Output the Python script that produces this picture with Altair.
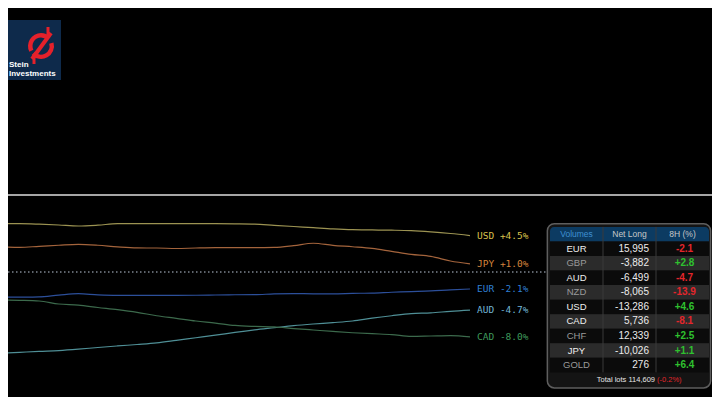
import altair as alt
import pandas as pd

# ---------------- data ----------------
minutes = list(range(0, 481, 20))  # 8 hours, every 20 minutes

usd = [5.96, 5.96, 5.90, 5.80, 5.68, 5.78, 5.96, 5.96, 5.96, 5.96, 5.96, 5.96, 5.94,
       5.90, 5.76, 5.62, 5.47, 5.32, 5.22, 5.19, 5.16, 5.10, 4.95, 4.75, 4.50]
jpy = [3.12, 3.04, 3.17, 3.30, 3.41, 3.30, 3.10, 2.97, 2.96, 2.90, 2.96, 3.00, 3.00,
       3.00, 3.03, 3.25, 3.55, 3.29, 3.12, 2.92, 2.55, 2.18, 1.93, 1.36, 1.00]
eur = [-3.12, -3.10, -3.06, -2.85, -2.68, -2.82, -2.88, -2.88, -2.88, -2.88, -2.87, -2.84, -2.81,
       -2.80, -2.70, -2.66, -2.70, -2.70, -2.64, -2.60, -2.50, -2.42, -2.34, -2.20, -2.10]
aud = [-10.04, -9.92, -9.80, -9.70, -9.53, -9.32, -9.13, -8.95, -8.75, -8.44, -8.12, -7.80, -7.45,
       -7.14, -6.88, -6.62, -6.42, -6.25, -6.05, -5.70, -5.40, -5.14, -5.05, -4.85, -4.70]
cad = [-3.46, -3.50, -3.58, -3.95, -4.09, -4.38, -4.65, -4.98, -5.40, -5.72, -6.05, -6.30, -6.60,
       -6.72, -6.78, -6.98, -7.16, -7.34, -7.50, -7.62, -7.72, -7.95, -7.90, -7.85, -8.00]

series_names = ["USD", "JPY", "EUR", "AUD", "CAD"]
series_values = [usd, jpy, eur, aud, cad]
series_changes = ["+4.5%", "+1.0%", "-2.1%", "-4.7%", "-8.0%"]
line_colors = ["#9c9352", "#a4643c", "#2c4f9a", "#4f8f96", "#3c6a4c"]
label_colors = ["#d9c24c", "#d4843c", "#2f7fd4", "#72b6d6", "#3f9a5c"]

table_headers = ["Volumes", "Net Long", "8H (%)"]
table_rows = ["EUR", "GBP", "AUD", "NZD", "USD", "CAD", "CHF", "JPY", "GOLD"]
net_long = [15995, -3882, -6499, -8065, -13286, 5736, 12339, -10026, 276]
change_8h = [-2.1, 2.8, -4.7, -13.9, 4.6, -8.1, 2.5, 1.1, 6.4]
name_colors = ["#eeeeee", "#9a9a9a", "#eeeeee", "#9a9a9a", "#eeeeee",
               "#eeeeee", "#9a9a9a", "#eeeeee", "#9a9a9a"]
total_lots = 114609
total_change = -0.2

W, H = 704, 389

# ---------------- line panel ----------------
line_rows = []
for name, vals, lc in zip(series_names, series_values, line_colors):
    for t, v in zip(minutes, vals):
        line_rows.append({"cur": name, "t": t, "v": v, "col": lc})
line_df = pd.DataFrame(line_rows)

lab_df = pd.DataFrame({
    "cur": series_names,
    "t": [minutes[-1]] * len(series_names),
    "v": [vals[-1] for vals in series_values],
    "label": [f"{n} {c}" for n, c in zip(series_names, series_changes)],
    "col": label_colors,
})

xs = alt.Scale(domain=[0, 480], range=[-8, 462])
ys = alt.Scale(domain=[-10, 10], range=[345, 183])

top_rule = alt.Chart(pd.DataFrame({"v": [0]})).mark_rule(
    color="#a6a6a6", strokeWidth=2
).encode(y=alt.value(187), x=alt.value(0), x2=alt.value(W))

zero_rule = alt.Chart(pd.DataFrame({"v": [0]})).mark_rule(
    color="#7d8590", strokeWidth=1.5, strokeDash=[1.5, 2.5]
).encode(y=alt.Y("v:Q", scale=ys, axis=None), x=alt.value(0), x2=alt.value(W))

lines = alt.Chart(line_df).mark_line(strokeWidth=1.2, interpolate="monotone").encode(
    x=alt.X("t:Q", scale=xs, axis=None),
    y=alt.Y("v:Q", scale=ys, axis=None),
    detail="cur:N",
    color=alt.Color("col:N", scale=None),
)

labels = alt.Chart(lab_df).mark_text(
    align="left", baseline="middle", dx=7, font="DejaVu Sans Mono", fontSize=9.5
).encode(
    x=alt.X("t:Q", scale=xs, axis=None),
    y=alt.Y("v:Q", scale=ys, axis=None),
    text="label:N",
    color=alt.Color("col:N", scale=None),
)

line_panel = alt.layer(top_rule, zero_rule, lines, labels)

# ---------------- table panel ----------------
txs = alt.Scale(domain=[0, 3], range=[542, 701])
tys = alt.Scale(domain=[0, 10], range=[240.7, 386.2])

frame_df = pd.DataFrame({"tx": [-0.05], "tx2": [3.03], "ty": [-1.72], "ty2": [9.57]})
frame = alt.Chart(frame_df).mark_rect(
    fill="#141414", stroke="#5e5e5e", strokeWidth=1.5, cornerRadius=7
).encode(
    x=alt.X("tx:Q", scale=txs, axis=None), x2="tx2:Q",
    y=alt.Y("ty:Q", scale=tys, axis=None), y2="ty2:Q",
)

header_df = pd.DataFrame({"tx": [0], "tx2": [3], "ty": [-1.5], "ty2": [-0.5]})
header_bg = alt.Chart(header_df).mark_rect(
    fill="#0c3b62", cornerRadiusTopLeft=4, cornerRadiusTopRight=4
).encode(
    x=alt.X("tx:Q", scale=txs, axis=None), x2="tx2:Q",
    y=alt.Y("ty:Q", scale=tys, axis=None), y2="ty2:Q",
)

rowbg_df = pd.DataFrame({
    "tx": [0] * len(table_rows), "tx2": [3] * len(table_rows),
    "ty": [i - 0.5 for i in range(len(table_rows))],
    "ty2": [i + 0.5 for i in range(len(table_rows))],
    "fill": ["#0b0b0b" if i % 2 == 0 else "#2b2b2b" for i in range(len(table_rows))],
})
row_bg = alt.Chart(rowbg_df).mark_rect().encode(
    x=alt.X("tx:Q", scale=txs, axis=None), x2="tx2:Q",
    y=alt.Y("ty:Q", scale=tys, axis=None), y2="ty2:Q",
    fill=alt.Fill("fill:N", scale=None),
)

sep_df = pd.DataFrame({"tx": [1, 2], "ty": [-1.5, -1.5], "ty2": [8.5, 8.5]})
seps = alt.Chart(sep_df).mark_rule(color="#3a3a3a", strokeWidth=1).encode(
    x=alt.X("tx:Q", scale=txs, axis=None),
    y=alt.Y("ty:Q", scale=tys, axis=None), y2="ty2:Q",
)

hdr_txt_df = pd.DataFrame({
    "tx": [0.5, 1.5, 2.5], "ty": [-1, -1, -1], "label": table_headers,
    "col": ["#3f90d2", "#c8c8c8", "#c8c8c8"],
})
hdr_txt = alt.Chart(hdr_txt_df).mark_text(
    font="Liberation Sans", fontSize=8.5, baseline="middle", align="center"
).encode(
    x=alt.X("tx:Q", scale=txs, axis=None),
    y=alt.Y("ty:Q", scale=tys, axis=None),
    text="label:N", color=alt.Color("col:N", scale=None),
)

cell_df = pd.DataFrame({
    "ty": list(range(len(table_rows))),
    "name": table_rows,
    "ncol": name_colors,
    "net": [f"{v:,}" for v in net_long],
    "chg": [f"{v:+.1f}" for v in change_8h],
    "ccol": ["#e3262b" if v < 0 else "#2fc12f" for v in change_8h],
    "c0": [0.5] * len(table_rows),
    "c1": [2.0] * len(table_rows),
    "c2": [2.5] * len(table_rows),
})
name_txt = alt.Chart(cell_df).mark_text(
    font="Liberation Sans", fontSize=9.5, baseline="middle", align="center"
).encode(
    x=alt.X("c0:Q", scale=txs, axis=None),
    y=alt.Y("ty:Q", scale=tys, axis=None),
    text="name:N", color=alt.Color("ncol:N", scale=None),
)
net_txt = alt.Chart(cell_df).mark_text(
    font="Liberation Sans", fontSize=10, baseline="middle", align="right", dx=-7,
    color="#ececec",
).encode(
    x=alt.X("c1:Q", scale=txs, axis=None),
    y=alt.Y("ty:Q", scale=tys, axis=None),
    text="net:N",
)
chg_txt = alt.Chart(cell_df).mark_text(
    font="Liberation Sans", fontSize=10, fontWeight="bold", baseline="middle",
    align="center", dx=2,
).encode(
    x=alt.X("c2:Q", scale=txs, axis=None),
    y=alt.Y("ty:Q", scale=tys, axis=None),
    text="chg:N", color=alt.Color("ccol:N", scale=None),
)

total_df = pd.DataFrame({
    "tx": [2.0, 2.0], "ty": [9, 9],
    "label": [f"Total lots {total_lots:,}", f"({total_change:+.1f}%)".replace("+", "")],
    "col": ["#e6e6e6", "#e3262b"],
})
total_l = alt.Chart(total_df.iloc[[0]]).mark_text(
    font="Liberation Sans", fontSize=7.5, baseline="middle", align="right", dx=-1
).encode(
    x=alt.X("tx:Q", scale=txs, axis=None),
    y=alt.Y("ty:Q", scale=tys, axis=None),
    text="label:N", color=alt.Color("col:N", scale=None),
)
total_r = alt.Chart(total_df.iloc[[1]]).mark_text(
    font="Liberation Sans", fontSize=7.5, baseline="middle", align="left", dx=1
).encode(
    x=alt.X("tx:Q", scale=txs, axis=None),
    y=alt.Y("ty:Q", scale=tys, axis=None),
    text="label:N", color=alt.Color("col:N", scale=None),
)

table_panel = alt.layer(frame, header_bg, row_bg, seps, hdr_txt, name_txt, net_txt,
                        chg_txt, total_l, total_r)

# ---------------- logo ----------------
one = pd.DataFrame({"a": [0]})
RED = "#e5212b"
CX, CY = 33, 38
logo_box = alt.Chart(one).mark_rect(fill="#0e2a4b").encode(
    x=alt.value(-8), x2=alt.value(53), y=alt.value(12), y2=alt.value(72)
)
arc_top1 = alt.Chart(one).mark_arc(
    radius=13, radius2=8.5, theta=4.25, theta2=6.283, color=RED
).encode(x=alt.value(CX), y=alt.value(CY))
arc_top2 = alt.Chart(one).mark_arc(
    radius=13, radius2=8.5, theta=0, theta2=0.8, color=RED
).encode(x=alt.value(CX), y=alt.value(CY))
arc_bot = alt.Chart(one).mark_arc(
    radius=13, radius2=8.5, theta=1.3, theta2=3.95, color=RED
).encode(x=alt.value(CX), y=alt.value(CY))
slash = alt.Chart(one).mark_rule(color=RED, strokeWidth=4).encode(
    x=alt.value(43), y=alt.value(25), x2=alt.value(24), y2=alt.value(51)
)
stub_top = alt.Chart(one).mark_rule(color=RED, strokeWidth=3).encode(
    x=alt.value(40), y=alt.value(19), x2=alt.value(40), y2=alt.value(27)
)
stub_bot = alt.Chart(one).mark_rule(color=RED, strokeWidth=3).encode(
    x=alt.value(26), y=alt.value(49), x2=alt.value(26), y2=alt.value(56)
)
logo_t1 = alt.Chart(one).mark_text(
    text="Stein", font="Liberation Sans", fontWeight="bold", fontSize=8,
    color="white", align="left", baseline="middle"
).encode(x=alt.value(1), y=alt.value(57))
logo_t2 = alt.Chart(one).mark_text(
    text="Investments", font="Liberation Sans", fontWeight="bold", fontSize=8,
    color="white", align="left", baseline="middle"
).encode(x=alt.value(1), y=alt.value(66))

logo = alt.layer(logo_box, arc_top1, arc_top2, arc_bot, slash, stub_top, stub_bot,
                 logo_t1, logo_t2)

chart = alt.layer(line_panel, table_panel, logo).resolve_scale(
    x="independent", y="independent"
).properties(
    width=W, height=H, background="#000000", padding=0, autosize="none"
).configure_view(stroke=None)

chart.save("out.html", embed_options={"renderer": "svg", "actions": False})
